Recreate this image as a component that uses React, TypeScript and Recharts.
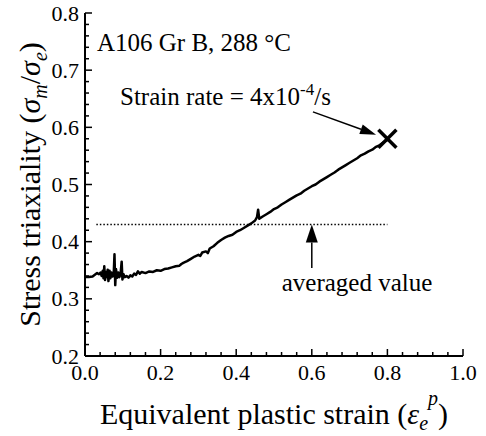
import { ComposedChart, Line, Scatter, XAxis, YAxis, ReferenceLine } from "recharts";

// measured curve (equivalent plastic strain vs stress triaxiality)
const strain = [
  0.0, 0.01, 0.02, 0.026, 0.032, 0.037, 0.041, 0.044, 0.047, 0.049, 0.051, 0.053, 0.056, 0.058,
  0.06, 0.062, 0.065, 0.067, 0.07, 0.073, 0.076, 0.078, 0.08, 0.082, 0.085, 0.088, 0.091, 0.094,
  0.097, 0.099, 0.102, 0.105, 0.11, 0.115, 0.12, 0.125, 0.13, 0.135, 0.14, 0.145, 0.15, 0.16,
  0.17, 0.18, 0.19, 0.2, 0.21, 0.22, 0.23, 0.24, 0.25, 0.255, 0.26, 0.27, 0.28, 0.29, 0.3, 0.305,
  0.31, 0.32, 0.325, 0.33, 0.34, 0.35, 0.36, 0.37, 0.38, 0.39, 0.4, 0.41, 0.42, 0.43, 0.44, 0.45,
  0.455, 0.458, 0.461, 0.47, 0.48, 0.49, 0.5, 0.51, 0.52, 0.53, 0.54, 0.55, 0.56, 0.57, 0.58,
  0.59, 0.6, 0.61, 0.62, 0.63, 0.64, 0.65, 0.66, 0.67, 0.68, 0.69, 0.7, 0.71, 0.72, 0.73, 0.74,
  0.75, 0.76, 0.77, 0.78, 0.79, 0.8,
];
const triax = [
  0.338, 0.338, 0.339, 0.342, 0.345, 0.343, 0.346, 0.34, 0.349, 0.336, 0.357, 0.333, 0.347, 0.338,
  0.351, 0.331, 0.349, 0.336, 0.346, 0.339, 0.344, 0.378, 0.324, 0.352, 0.337, 0.346, 0.338, 0.343,
  0.365, 0.334, 0.343, 0.338, 0.34, 0.337, 0.341, 0.339, 0.344, 0.342, 0.348, 0.344, 0.347, 0.345,
  0.348, 0.347, 0.35, 0.349, 0.352, 0.353, 0.355, 0.357, 0.358, 0.361, 0.363, 0.366, 0.37, 0.374, 0.377, 0.375,
  0.381, 0.383, 0.38, 0.388, 0.392, 0.398, 0.403, 0.407, 0.41, 0.412, 0.417, 0.42, 0.424, 0.428, 0.432, 0.437,
  0.443, 0.456, 0.44, 0.444, 0.448, 0.452, 0.457, 0.46, 0.465, 0.469, 0.473, 0.477, 0.481, 0.484, 0.489,
  0.493, 0.497, 0.5, 0.505, 0.509, 0.513, 0.517, 0.521, 0.526, 0.53, 0.534, 0.538, 0.542, 0.546, 0.551, 0.554,
  0.558, 0.561, 0.566, 0.569, 0.574, 0.578,
];

const xTicks = [
  0, 0.04, 0.08, 0.12, 0.16, 0.2, 0.24, 0.28, 0.32, 0.36, 0.4, 0.44, 0.48, 0.52, 0.56, 0.6, 0.64,
  0.68, 0.72, 0.76, 0.8, 0.84, 0.88, 0.92, 0.96, 1.0,
];
const xMajor = [0, 0.2, 0.4, 0.6, 0.8, 1.0];
const yTicks = [
  0.2, 0.22, 0.24, 0.26, 0.28, 0.3, 0.32, 0.34, 0.36, 0.38, 0.4, 0.42, 0.44, 0.46, 0.48, 0.5, 0.52,
  0.54, 0.56, 0.58, 0.6, 0.62, 0.64, 0.66, 0.68, 0.7, 0.72, 0.74, 0.76, 0.78, 0.8,
];
const yMajor = [0.2, 0.3, 0.4, 0.5, 0.6, 0.7, 0.8];

const avgValue = 0.43;
const avgFrom = 0.03;
const avgTo = 0.8;
const failPoint = [{ x: 0.8, y: 0.58 }];

const curve = strain.map((x, i) => ({ x, y: triax[i] }));

const FONT = "'Liberation Serif', 'Times New Roman', 'DejaVu Serif', serif";
const serif = { fontFamily: FONT };
const isIn = (list: number[], v: number) => list.some((t) => Math.abs(t - v) < 1e-6);

function makeXTick(side: "bottom" | "top") {
  return (props: any) => {
    const { x, y, payload } = props;
    const major = isIn(xMajor, payload.value);
    const len = major ? 7 : 4;
    const dir = side === "bottom" ? -1 : 1;
    return (
      <g>
        <line x1={x} x2={x} y1={y} y2={y + dir * len} stroke="#000" strokeWidth={1.5} />
        {side === "bottom" && major && (
          <text x={x} y={y + 24} textAnchor="middle" fontSize={22} style={serif} fill="#000">
            {payload.value.toFixed(1)}
          </text>
        )}
      </g>
    );
  };
}

function makeYTick(side: "left" | "right") {
  return (props: any) => {
    const { x, y, payload } = props;
    const major = isIn(yMajor, payload.value);
    const len = major ? 7 : 4;
    const dir = side === "left" ? 1 : -1;
    return (
      <g>
        <line x1={x} x2={x + dir * len} y1={y} y2={y} stroke="#000" strokeWidth={1.5} />
        {side === "left" && major && (
          <text x={x - 6} y={y + 7.5} textAnchor="end" fontSize={22} style={serif} fill="#000">
            {payload.value.toFixed(1)}
          </text>
        )}
      </g>
    );
  };
}

function arrowShape(head: number, width: number) {
  return (p: any) => {
    const { x1, y1, x2, y2 } = p;
    const dx = x2 - x1;
    const dy = y2 - y1;
    const len = Math.hypot(dx, dy) || 1;
    const ux = dx / len;
    const uy = dy / len;
    const bx = x2 - ux * head;
    const by = y2 - uy * head;
    const px = (-uy * width) / 2;
    const py = (ux * width) / 2;
    return (
      <g>
        <line x1={x1} y1={y1} x2={bx} y2={by} stroke="#000" strokeWidth={1.5} />
        <polygon points={`${x2},${y2} ${bx + px},${by + py} ${bx - px},${by - py}`} fill="#000" />
      </g>
    );
  };
}

const CrossMark = (props: any) => {
  const { cx, cy } = props;
  const s = 9;
  return (
    <g stroke="#000" strokeWidth={3.5}>
      <line x1={cx - s} y1={cy - s} x2={cx + s} y2={cy + s} />
      <line x1={cx - s} y1={cy + s} x2={cx + s} y2={cy - s} />
    </g>
  );
};

const axisLine = { stroke: "#000", strokeWidth: 2 };

export default function App() {
  return (
    <div style={{ position: "absolute", left: 0, top: 0, width: 486, height: 436, background: "#fff" }}>
      <ComposedChart width={486} height={436} margin={{ top: 13, right: 23, left: 0, bottom: 0 }}>
        <XAxis
          xAxisId="b"
          dataKey="x"
          type="number"
          domain={[0, 1]}
          ticks={xTicks}
          interval={0}
          height={80}
          tickSize={0}
          tickMargin={0}
          tickLine={false}
          axisLine={axisLine}
          tick={makeXTick("bottom")}
        />
        <XAxis
          xAxisId="t"
          orientation="top"
          dataKey="x"
          type="number"
          domain={[0, 1]}
          ticks={xTicks}
          interval={0}
          height={0}
          tickSize={0}
          tickMargin={0}
          tickLine={false}
          axisLine={axisLine}
          tick={makeXTick("top")}
        />
        <YAxis
          yAxisId="l"
          type="number"
          domain={[0.2, 0.8]}
          ticks={yTicks}
          interval={0}
          width={85}
          tickSize={0}
          tickMargin={0}
          tickLine={false}
          axisLine={axisLine}
          tick={makeYTick("left")}
        />
        <YAxis
          yAxisId="r"
          orientation="right"
          type="number"
          domain={[0.2, 0.8]}
          ticks={yTicks}
          interval={0}
          width={0}
          tickSize={0}
          tickMargin={0}
          tickLine={false}
          axisLine={axisLine}
          tick={makeYTick("right")}
        />
        <ReferenceLine
          xAxisId="b"
          yAxisId="l"
          segment={[
            { x: avgFrom, y: avgValue },
            { x: avgTo, y: avgValue },
          ]}
          stroke="#000"
          strokeWidth={1.5}
          strokeDasharray="1.5 2"
        />
        <ReferenceLine
          xAxisId="b"
          yAxisId="l"
          segment={[
            { x: 0.6, y: 0.354 },
            { x: 0.6, y: avgValue },
          ]}
          shape={arrowShape(18, 12)}
        />
        <ReferenceLine
          xAxisId="b"
          yAxisId="l"
          segment={[
            { x: 0.603, y: 0.627 },
            { x: 0.77, y: 0.587 },
          ]}
          shape={arrowShape(16, 10)}
        />
        <Line
          xAxisId="b"
          yAxisId="l"
          data={curve}
          dataKey="y"
          type="linear"
          stroke="#000"
          strokeWidth={2.5}
          strokeLinejoin="round"
          dot={false}
          isAnimationActive={false}
        />
        <Scatter
          xAxisId="b"
          yAxisId="l"
          data={failPoint}
          dataKey="y"
          shape={CrossMark}
          isAnimationActive={false}
        />
      </ComposedChart>
      <svg
        width={486}
        height={436}
        style={{ position: "absolute", left: 0, top: 0, pointerEvents: "none", fontFamily: FONT }}
        fill="#000"
      >
        <text x={97} y={51} fontSize={25}>A106 Gr B, 288 °C</text>
        <text x={120} y={105} fontSize={25}>
          Strain rate = 4x10
          <tspan fontSize={17} dy={-10}>-4</tspan>
          <tspan dy={10}>/s</tspan>
        </text>
        <text x={357} y={291} fontSize={25} textAnchor="middle">averaged value</text>
        <text x={274} y={424} fontSize={30} textAnchor="middle">
          Equivalent plastic strain (
          <tspan fontStyle="italic">ε</tspan>
          <tspan fontStyle="italic" fontSize={20} dy={6}>e</tspan>
          <tspan fontStyle="italic" fontSize={20} dy={-25}>p</tspan>
          <tspan dy={19}>)</tspan>
        </text>
        <text transform="translate(40,184.5) rotate(-90)" fontSize={30} textAnchor="middle">
          Stress triaxiality (
          <tspan fontStyle="italic">σ</tspan>
          <tspan fontStyle="italic" fontSize={20} dy={7}>m</tspan>
          <tspan dy={-7}>/</tspan>
          <tspan fontStyle="italic">σ</tspan>
          <tspan fontStyle="italic" fontSize={20} dy={7}>e</tspan>
          <tspan dy={-7}>)</tspan>
        </text>
      </svg>
    </div>
  );
}
